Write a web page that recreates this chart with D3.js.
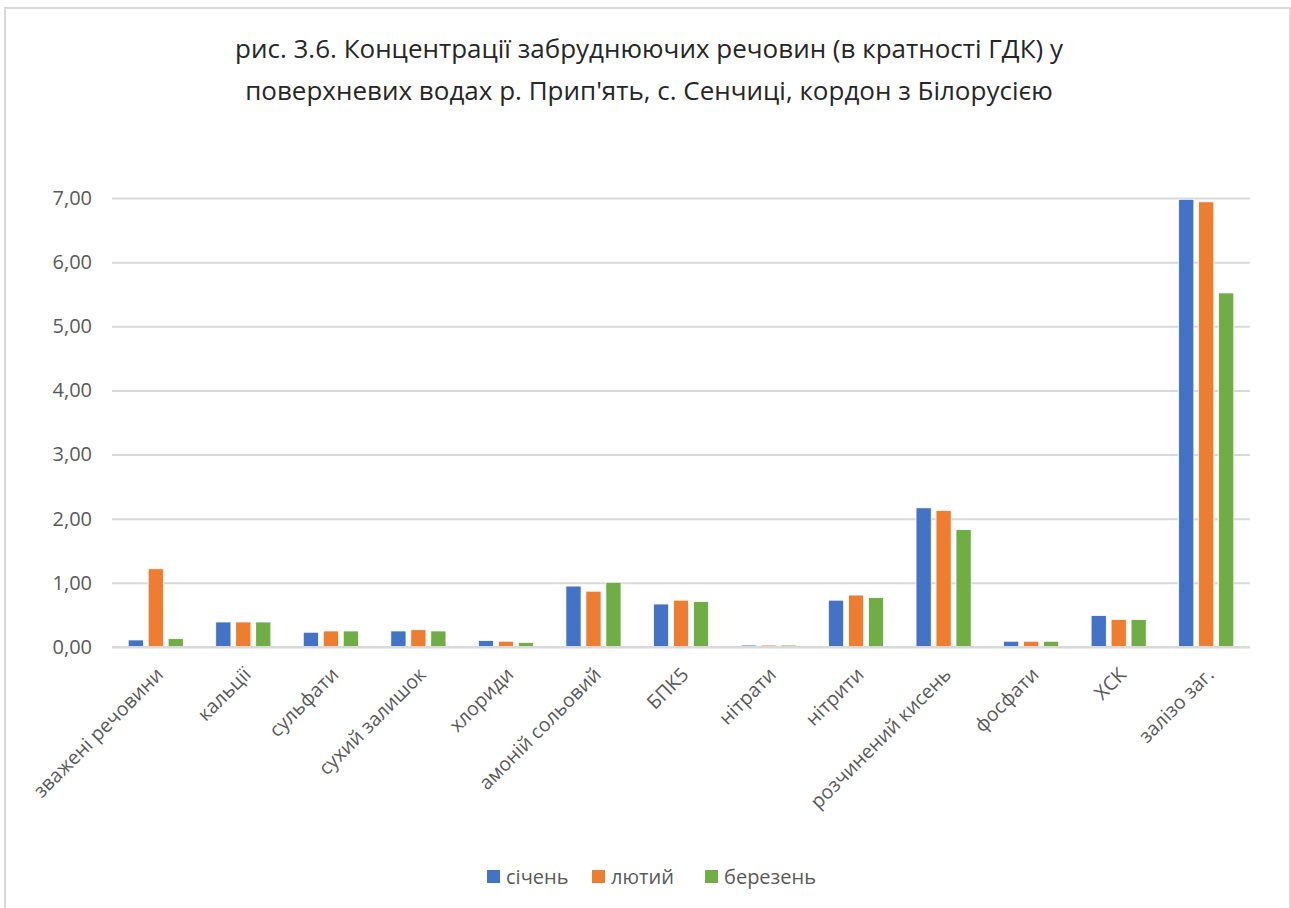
<!DOCTYPE html>
<html>
<head>
<meta charset="utf-8">
<script src="https://cdn.jsdelivr.net/npm/d3@7"></script>
<style>
  body { margin: 0; background: #fff; }
  svg { display: block; }
</style>
</head>
<body>
<div id="chart"></div>
<script>
"use strict";

var categories = [
  "зважені речовини", "кальції", "сульфати", "сухий залишок", "хлориди",
  "амоній сольовий", "БПК5", "нітрати", "нітрити", "розчинений кисень",
  "фосфати", "ХСК", "залізо заг."
];
var seriesNames = ["січень", "лютий", "березень"];
var january  = [0.11, 0.39, 0.23, 0.25, 0.10, 0.95, 0.67, 0.03, 0.73, 2.17, 0.09, 0.49, 6.98];
var february = [1.22, 0.39, 0.25, 0.27, 0.09, 0.87, 0.73, 0.03, 0.81, 2.13, 0.09, 0.43, 6.94];
var march    = [0.13, 0.39, 0.25, 0.25, 0.07, 1.01, 0.71, 0.03, 0.77, 1.83, 0.09, 0.43, 5.52];
var yTicks = [0, 1, 2, 3, 4, 5, 6, 7];
var titleLines = [
  "рис. 3.6. Концентрації забруднюючих речовин (в кратності ГДК) у",
  "поверхневих водах р. Прип'ять, с. Сенчиці, кордон з Білорусією"
];

var colors = ["#4472C4", "#ED7D31", "#70AD47"];
var font = "'Open Sans', 'Noto Sans', sans-serif";

var width = 1291, height = 908;
var margin = { left: 112, right: 41, top: 198, bottom: 261 };

var values = [january, february, march];
var rows = categories.map(function (c, i) {
  return { cat: c, vals: values.map(function (s, j) { return { key: seriesNames[j], v: s[i], j: j }; }) };
});

var svg = d3.select("#chart").append("svg")
  .attr("width", width)
  .attr("height", height);

svg.append("rect")
  .attr("x", 5).attr("y", 8)
  .attr("width", width - 6).attr("height", height)
  .attr("fill", "#fff")
  .attr("stroke", "#D9D9D9")
  .attr("stroke-width", 2);

var x0 = d3.scaleBand()
  .domain(categories)
  .range([margin.left, width - margin.right])
  .paddingInner(0.37)
  .paddingOuter(0.185);

var x1 = d3.scaleBand()
  .domain(seriesNames)
  .range([0, x0.bandwidth()])
  .paddingInner(0.24);

var y = d3.scaleLinear()
  .domain([0, 7])
  .range([height - margin.bottom, margin.top]);

// title
svg.append("g")
  .selectAll("text")
  .data(titleLines)
  .join("text")
  .attr("x", 649)
  .attr("y", function (d, i) { return 58 + i * 42; })
  .attr("text-anchor", "middle")
  .attr("font-family", font)
  .attr("font-size", "26px")
  .attr("fill", "#262626")
  .text(function (d) { return d; });

// gridlines
var yAxis = d3.axisLeft(y)
  .tickValues(yTicks)
  .tickSize(-(width - margin.left - margin.right))
  .tickPadding(20)
  .tickFormat(function (d) { return d3.format(".2f")(d).replace(".", ","); });

var gy = svg.append("g")
  .attr("transform", "translate(" + margin.left + ",0)")
  .call(yAxis);
gy.select(".domain").remove();
gy.selectAll(".tick line")
  .attr("stroke", "#D9D9D9")
  .attr("stroke-width", 2);
gy.selectAll(".tick text")
  .attr("font-family", font)
  .attr("font-size", "20px")
  .attr("fill", "#595959");

// bars
svg.append("g")
  .selectAll("g")
  .data(rows)
  .join("g")
  .attr("transform", function (d) { return "translate(" + x0(d.cat) + ",0)"; })
  .selectAll("rect")
  .data(function (d) { return d.vals; })
  .join("rect")
  .attr("x", function (d) { return x1(d.key); })
  .attr("y", function (d) { return y(d.v); })
  .attr("width", x1.bandwidth())
  .attr("height", function (d) { return y(0) - y(d.v); })
  .attr("fill", function (d) { return colors[d.j]; })
  .attr("stroke", "#fff")
  .attr("stroke-width", 0.8);

// baseline
svg.append("line")
  .attr("x1", margin.left).attr("x2", width - margin.right)
  .attr("y1", y(0)).attr("y2", y(0))
  .attr("stroke", "#D9D9D9")
  .attr("stroke-width", 2);

// category labels
svg.append("g")
  .selectAll("text")
  .data(categories)
  .join("text")
  .attr("transform", function (d) {
    return "translate(" + (x0(d) + x0.bandwidth() / 2 + 4) + "," + (y(0) + 24) + ") rotate(-45)";
  })
  .attr("text-anchor", "end")
  .attr("dy", "0.35em")
  .attr("font-family", font)
  .attr("font-size", "19.5px")
  .attr("fill", "#595959")
  .text(function (d) { return d; });

// legend
var legendX = [487, 592, 705];
var legend = svg.append("g")
  .selectAll("g")
  .data(seriesNames)
  .join("g")
  .attr("transform", function (d, i) { return "translate(" + legendX[i] + ",870)"; });
legend.append("rect")
  .attr("width", 13).attr("height", 13)
  .attr("fill", function (d, i) { return colors[i]; });
legend.append("text")
  .attr("x", 19)
  .attr("y", 7)
  .attr("dy", "0.35em")
  .attr("font-family", font)
  .attr("font-size", "20px")
  .attr("fill", "#595959")
  .text(function (d) { return d; });
</script>
</body>
</html>
